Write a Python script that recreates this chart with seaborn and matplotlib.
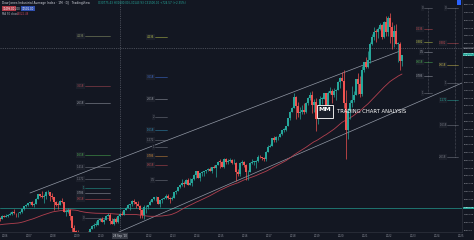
import numpy as np
import pandas as pd
import matplotlib
matplotlib.use("Agg")
import matplotlib.pyplot as plt
import matplotlib.transforms as mtransforms
from matplotlib.patches import Rectangle
import seaborn as sns

# ---------------- data (Dow Jones Industrial Average, monthly) ----------------
# closes used only to warm up the 50-month moving average (Aug 2001 - Sep 2005)
warmup_close = [9950, 8848, 9075, 9852, 10022,
                9920, 10106, 10404, 9946, 9925, 9243, 8737, 8664, 7592, 8397, 8896, 8342,
                8054, 7891, 7992, 8480, 8850, 8985, 9234, 9415, 9275, 9801, 9782, 10454,
                10488, 10584, 10358, 10226, 10188, 10435, 10140, 10174, 10080, 10027, 10428, 10783,
                10490, 10766, 10504, 10193, 10467, 10275, 10641, 10482, 10569]

# displayed candles: Oct 2005 - Jul 2022
close = [10440, 10806, 10718,
         10865, 10993, 11109, 11367, 11168, 11150, 11186, 11381, 11679, 12081, 12222, 12463,
         12622, 12269, 12354, 13063, 13628, 13409, 13212, 13358, 13896, 13930, 13372, 13265,
         12650, 12266, 12263, 12820, 12638, 11350, 11378, 11544, 10851, 9325, 8829, 8776,
         8001, 7063, 7609, 8168, 8500, 8447, 9172, 9496, 9712, 9713, 10345, 10428,
         10067, 10325, 10857, 11009, 10137, 9774, 10466, 10015, 10788, 11118, 11006, 11578,
         11892, 12226, 12320, 12811, 12570, 12414, 12143, 11614, 10913, 11955, 12046, 12218,
         12633, 12952, 13212, 13214, 12393, 12880, 13009, 13091, 13437, 13096, 13026, 13104,
         13861, 14054, 14579, 14840, 15116, 14910, 15500, 14810, 15130, 15546, 16086, 16577,
         15699, 16322, 16458, 16581, 16717, 16827, 16563, 17098, 17043, 17391, 17828, 17823,
         17165, 18133, 17776, 17841, 18011, 17620, 17690, 16528, 16285, 17664, 17720, 17425,
         16466, 16517, 17685, 17774, 17787, 17930, 18432, 18401, 18308, 18142, 19124, 19763,
         19864, 20812, 20663, 20941, 21009, 21350, 21891, 21948, 22405, 23377, 24272, 24719,
         26149, 25029, 24103, 24163, 24416, 24271, 25415, 25965, 26458, 25116, 25538, 23327,
         24999, 25916, 25929, 26593, 24815, 26600, 26864, 26403, 26917, 27046, 28051, 28538,
         28256, 25409, 21917, 24346, 25383, 25813, 26428, 28430, 27782, 26502, 29638, 30606,
         29983, 30932, 32982, 33875, 34529, 34503, 34935, 35361, 33844, 35820, 34484, 36338,
         35132, 33893, 34678, 32977, 32990, 30775, 31500]
high = [10719, 10931, 10985,
        11044, 11137, 11317, 11420, 11670, 11263, 11284, 11480, 11725, 12167, 12361, 12529,
        12687, 12795, 12527, 13162, 13692, 13692, 14022, 13658, 14000, 14198, 13956, 13779,
        13279, 12768, 12622, 12891, 13136, 12657, 11733, 11867, 11790, 10882, 9654, 9026,
        9088, 8280, 7924, 8221, 8578, 8878, 9231, 9630, 9918, 10120, 10406, 10580,
        10730, 10414, 10907, 11258, 11206, 10595, 10583, 10720, 10948, 11246, 11451, 11625,
        12020, 12391, 12419, 12876, 12950, 12600, 12753, 12284, 11716, 12284, 12188, 12294,
        12842, 13055, 13289, 13338, 13280, 12899, 13158, 13331, 13653, 13662, 13290, 13354,
        13969, 14150, 14585, 14888, 15542, 15340, 15634, 15658, 15710, 15721, 16174, 16589,
        16588, 16398, 16631, 16631, 16736, 16978, 17152, 17153, 17351, 17395, 17894, 18103,
        17951, 18244, 18289, 18175, 18351, 18213, 18137, 17749, 16933, 17799, 17978, 17898,
        17500, 16795, 17790, 18168, 17934, 18016, 18622, 18668, 18450, 18399, 19152, 19988,
        20126, 20851, 21169, 21070, 21112, 21535, 21929, 22179, 22420, 23485, 24327, 24876,
        26617, 26307, 25450, 24858, 25087, 25403, 25469, 26167, 26769, 26952, 25881, 25980,
        25053, 26242, 26110, 26696, 26667, 26908, 27399, 27140, 27307, 27121, 28175, 28702,
        29374, 29568, 27102, 24765, 25758, 27580, 26895, 28461, 29199, 28902, 30116, 30637,
        31272, 32010, 33259, 34257, 35092, 34849, 35171, 35631, 35510, 35892, 36566, 36514,
        36952, 35824, 35372, 35492, 33273, 33272, 31600]
low = [10156, 10406, 10683,
       10661, 10730, 10918, 10987, 11060, 10699, 10684, 11020, 11230, 11655, 11992, 12133,
       12354, 12094, 11939, 12354, 12975, 13267, 13171, 12518, 13029, 13711, 12724, 13076,
       11635, 12071, 11731, 12247, 12480, 11287, 10827, 11173, 10365, 7882, 7449, 8149,
       7909, 7063, 6470, 7456, 8039, 8221, 8087, 9116, 9252, 9597, 9678, 10235,
       10025, 9836, 10318, 10823, 9774, 9756, 9614, 9936, 9941, 10711, 10929, 11003,
       11556, 11889, 11555, 12093, 12359, 11862, 12093, 10604, 10597, 10404, 11231, 11735,
       12218, 12586, 12836, 12710, 12391, 12036, 12492, 12999, 12977, 13052, 12471, 12883,
       13100, 13664, 14043, 14434, 14749, 14552, 14901, 14760, 14777, 14719, 15516, 15703,
       15699, 15341, 16015, 16015, 16334, 16671, 16563, 16333, 16945, 15855, 17352, 17067,
       17136, 17037, 17579, 17581, 17738, 17575, 17465, 15370, 15942, 16013, 17371, 17139,
       15450, 15503, 16512, 17484, 17331, 17063, 17713, 18288, 17992, 17959, 17883, 19122,
       19678, 19831, 20412, 20379, 20553, 20996, 21279, 21600, 21709, 22400, 23242, 24242,
       24700, 23360, 23509, 23344, 23998, 23998, 24077, 25123, 25788, 24122, 24268, 21713,
       22639, 24828, 25208, 25900, 24680, 24680, 26545, 25339, 26139, 25743, 27040, 27325,
       28170, 24681, 18214, 20735, 23361, 24843, 25523, 26366, 26537, 26143, 26277, 29413,
       29857, 29857, 30547, 32859, 33473, 33272, 33741, 34713, 33613, 33785, 34006, 34005,
       33150, 32273, 32632, 32913, 30635, 29653, 30143]
first_month = 2005 + 9 / 12            # October 2005

years = list(range(2006, 2026))

# channel lines (time, price) end points
upper_t = [2007.04, 2022.46]
upper_p = [13786, 32061]
lower_t = [2010.17, 2025.04]
lower_p = [7994, 27943]

hline_price = 11856                     # teal horizontal level
cross_t, cross_p = 2010.79, 32447       # cross-hair
cross_date = "28 Sep '10"
last_price = 31500

# Fibonacci tools: label edge time, line end time, prices and labels
fibA_t = (2009.33, 2010.375)
fibA_p = [33992, 27557, 25369, 18677, 17133, 15588, 14430, 13786, 13014, 10568]
fibA_l = ["4.236", "3.618", "2.618", "1.618", "1.414", "1.272", "1", "0.786", "0.618", "0"]
fibB_t = (2012.25, 2012.75)
fibB_p = [33863, 28715, 25884, 23567, 21894, 20607, 19706, 18548, 17390, 15460]
fibB_l = ["4.236", "3.618", "2.618", "2", "1.618", "1.272", "1", "0.786", "0.618", "0.5"]
fibC_t = (2023.46, 2023.79, 2023.63)
fibC_p = [37596, 34893, 33220, 31933, 30646, 28844, 26656]
fibC_l = ["0", "0.236", "0.382", "0.5", "0.618", "0.786", "1"]
fibD_t = (2024.42, 2024.875, 2024.75)
fibD_p = [37596, 33091, 30260, 27943, 25755, 22538, 18419]
fibD_l = ["0", "0.382", "0.618", "1", "1.272", "1.618", "2.618"]

# ---------------- styling ----------------
bg = "#131722"
up_c = "#26a69a"
dn_c = "#ef5350"
txt_c = "#b2b5be"

sns.set_theme(style="dark")
plt.rcParams["font.family"] = ["DejaVu Sans"]

full_close = warmup_close + close
df = pd.DataFrame({
    "t": first_month + np.arange(len(close)) / 12 + 1 / 24,
    "open": full_close[len(warmup_close) - 1:-1],
    "high": high, "low": low, "close": close,
})
df["ma"] = pd.Series(full_close).rolling(50).mean().values[len(warmup_close):]
df["up"] = df["close"] >= df["open"]

fig = plt.figure(figsize=(4.74, 2.40), dpi=100, facecolor=bg)
ax = fig.add_axes([0, 8 / 240, 462 / 474, 232 / 240])
ax.set_facecolor(bg)
ax.grid(False)

# horizontal teal level + channel lines
ax.axhline(hline_price, color=up_c, lw=0.6, alpha=0.75, zorder=1)
ax.plot(upper_t, upper_p, color="#a9b0bd", lw=0.5, alpha=0.85, zorder=1)
ax.plot(lower_t, lower_p, color="#a9b0bd", lw=0.5, alpha=0.85, zorder=1)

# moving average
sns.lineplot(data=df, x="t", y="ma", ax=ax, color="#b2404f", lw=0.6, zorder=2)

# candles
cols = np.where(df["up"], up_c, dn_c)
ax.vlines(df["t"], df["low"], df["high"], colors=cols, lw=0.5, zorder=3)
body_lo = np.minimum(df["open"], df["close"])
body_h = np.maximum(np.abs(df["close"] - df["open"]), 80)
ax.bar(df["t"], body_h, bottom=body_lo, width=0.82 / 12, color=cols, linewidth=0, zorder=4)

# fibonacci tools
blend = mtransforms.blended_transform_factory(ax.transAxes, ax.transData)
fibA_c = ["#8f9a6a", "#b04a55", "#9a9ea8", "#4caf50", "#787b86", "#787b86", "#26a69a", "#9a9ea8", "#c04a50", "#787b86"]
fibB_c = ["#b8c24a", "#3f6fd8", "#9a9ea8", "#787b86", "#2f8fb8", "#787b86", "#787b86", "#d08a3a", "#c04a50", "#787b86"]
fibC_c = ["#787b86", "#c04a50", "#b8c24a", "#9a9ea8", "#4caf50", "#9a9ea8", "#787b86"]
fibD_c = ["#787b86", "#c04a50", "#c8b84a", "#787b86", "#26a69a", "#787b86", "#787b86"]

def draw_fib(tt, prices, labels, colors, vline=None):
    for p, l, c in zip(prices, labels, colors):
        ax.plot([tt[0], tt[1]], [p, p], color=c, lw=0.45, alpha=0.8, zorder=2)
        ax.text(tt[0] - 0.02, p, l, color=c, fontsize=1.9, ha="right", va="center", zorder=5,
                bbox=dict(boxstyle="square,pad=0.25", fc="#1e222d", ec="none", alpha=0.9))
    if vline is not None:
        ax.plot([vline, vline], [min(prices), max(prices)], color="#9598a1", lw=0.4,
                ls=(0, (1, 1.5)), alpha=0.8, zorder=2)

draw_fib(fibA_t, fibA_p, fibA_l, fibA_c)
draw_fib(fibB_t, fibB_p, fibB_l, fibB_c)
draw_fib(fibC_t, fibC_p, fibC_l, fibC_c, vline=fibC_t[2])
draw_fib(fibD_t, fibD_p, fibD_l, fibD_c, vline=fibD_t[2])

# cross-hair
ax.axvline(cross_t, color="#8a8e99", lw=0.4, ls=(0, (2, 2)), alpha=0.8, zorder=6)
ax.axhline(cross_p, color="#8a8e99", lw=0.4, ls=(0, (2, 2)), alpha=0.8, zorder=6)

# axes, ticks (labels hidden where a price / date box covers them)
ax.set_xlim(2006 - 5 / 24, 2006 + 457 / 24)
ax.set_ylim(8767, 38625)
ax.set_xlabel("")
ax.set_ylabel("")
ax.set_xticks(years)
ax.set_xticklabels(["" if y == 2011 else str(y) for y in years], fontsize=1.9, color="#8b8f9a")
ax.yaxis.tick_right()
yt = list(range(9000, 38001, 1000))
ax.set_yticks(yt)
hidden = {31000, 32000, 12000}
ax.set_yticklabels(["" if v in hidden else f"{v}.00" for v in yt], fontsize=1.55, color=txt_c)
ax.tick_params(axis="x", length=0, pad=1.5)
ax.tick_params(axis="y", length=0, pad=1.0)
for s in ["top", "left"]:
    ax.spines[s].set_visible(False)
for s in ["bottom", "right"]:
    ax.spines[s].set_color("#2a2e39")
    ax.spines[s].set_linewidth(0.6)

# axis price boxes
ax.text(1.003, cross_p, f"{cross_p}.00", transform=blend, fontsize=1.55, color="#d1d4dc",
        va="center", ha="left", clip_on=False, zorder=7,
        bbox=dict(boxstyle="square,pad=0.35", fc="#363a45", ec="none"))
ax.text(1.003, last_price + 250, f"{last_price}.00\n12d 04h", transform=blend, fontsize=1.55,
        color="white", va="top", ha="left", clip_on=False, zorder=7, linespacing=1.1,
        bbox=dict(boxstyle="square,pad=0.35", fc=up_c, ec="none"))
ax.text(1.003, hline_price, f"{hline_price}.00", transform=blend, fontsize=1.55, color="white",
        va="center", ha="left", clip_on=False, zorder=7,
        bbox=dict(boxstyle="square,pad=0.35", fc=up_c, ec="none"))
xblend = mtransforms.blended_transform_factory(ax.transData, ax.transAxes)
ax.text(cross_t, -0.018, cross_date, transform=xblend, fontsize=1.9, color="#d1d4dc",
        va="center", ha="center", clip_on=False, zorder=7,
        bbox=dict(boxstyle="square,pad=0.3", fc="#363a45", ec="none"))

# watermark
fig.patches.append(Rectangle((317 / 474, 1 - 118 / 240), 16 / 474, 13 / 240, transform=fig.transFigure,
                             fc="#1b1f2a", ec="#e6e6e6", lw=0.7, zorder=8))
fig.text(325 / 474, 1 - 110 / 240, "MM", fontsize=4.5, color="white", fontweight="bold",
         ha="center", va="center", zorder=9)
fig.text(337 / 474, 1 - 111.5 / 240, "TRADING CHART ANALYSIS", fontsize=3.8, color="white",
         ha="left", va="center", zorder=9, family=["Liberation Sans Narrow", "DejaVu Sans"])

# header texts
fig.text(2 / 474, 1 - 3 / 240, "Dow Jones Industrial Average Index · 1M · DJ   TradingView",
         fontsize=2.2, color="#d1d4dc", ha="left", va="center")
fig.text(98 / 474, 1 - 3 / 240, "O30775.43 H31600.00 L30143.93 C31500.00 +724.57 (+2.35%)",
         fontsize=2.0, color=up_c, ha="left", va="center")
fig.text(3 / 474, 1 - 8.5 / 240, "31499.00", fontsize=1.9, color="white", ha="left", va="center",
         bbox=dict(boxstyle="square,pad=0.3", fc="#b03a48", ec="none"))
fig.text(15 / 474, 1 - 8.5 / 240, "2.00", fontsize=1.9, color="#d1d4dc", ha="left", va="center")
fig.text(22 / 474, 1 - 8.5 / 240, "31501.00", fontsize=1.9, color="white", ha="left", va="center",
         bbox=dict(boxstyle="square,pad=0.3", fc="#2f4fae", ec="none"))
fig.text(2 / 474, 1 - 14 / 240, "MA 50 close", fontsize=1.9, color="#b2b5be", ha="left", va="center")
fig.text(17 / 474, 1 - 14 / 240, "29022.48", fontsize=1.9, color="#c2455a", ha="left", va="center")
fig.patches.append(Rectangle((457 / 474, 1 - 5 / 240), 4 / 474, 5 / 240, transform=fig.transFigure,
                             fc="#2962ff", ec="none", zorder=8))

fig.savefig("out.png", dpi=100, facecolor=bg)
